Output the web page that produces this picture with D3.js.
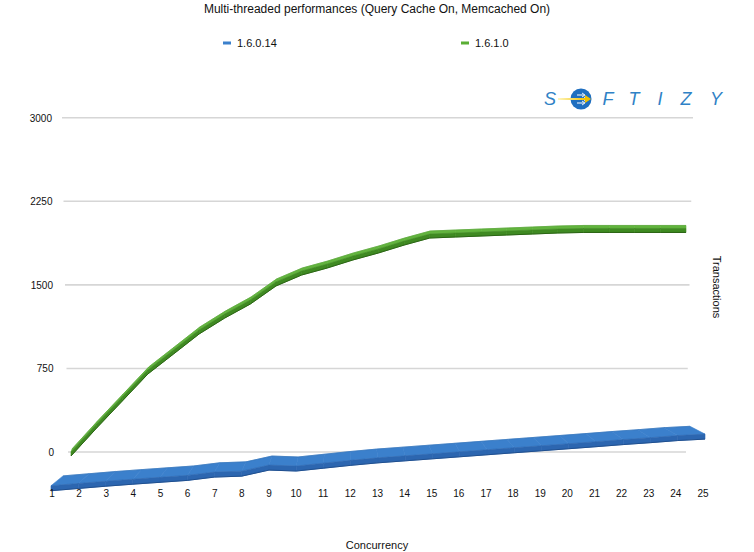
<!DOCTYPE html>
<html><head><meta charset="utf-8">
<script src="https://cdn.jsdelivr.net/npm/d3@7/dist/d3.min.js"></script>
<style>body{margin:0;background:#fff}svg{display:block}text{font-family:"Liberation Sans",Arial,sans-serif;fill:#111}</style>
</head><body><div id="chart"></div>
<script>
const title = "Multi-threaded performances (Query Cache On, Memcached On)";
const concurrency = [1,2,3,4,5,6,7,8,9,10,11,12,13,14,15,16,17,18,19,20,21,22,23,24,25];
const seriesNames = ["1.6.0.14","1.6.1.0"];
const v16014 = [36,55,74,91,107,123,151,159,210,202,226,250,271,288,305,322,339,356,373,390,407,425,441,459,471];
const v1610 = [27,278,520,763,942,1122,1265,1391,1553,1651,1714,1786,1849,1920,1983,1992,2001,2010,2019,2028,2033,2033,2033,2033,2033];
const yTicks = [0,750,1500,2250,3000];
const xTitle = "Concurrency", yTitle = "Transactions";
const logoLetters = ["F","T","I","Z","Y"];

const W=754,H=552;
const svg=d3.select("#chart").append("svg").attr("width",W).attr("height",H);

// back wall
const wallX=d3.scaleLinear().domain([1,25]).range([72,686]);
const wallY=d3.scaleLinear().domain([0,3000]).range([452,117.7]);
// gridline extents widen towards the top (perspective of the wall)
const gridL=d3.scaleLinear().domain([0,3000]).range([68,62]);
const gridR=d3.scaleLinear().domain([0,3000]).range([686,693]);
// depth planes for series ribbons
const planes={
  green:{back:{x:wallX,y:wallY},
         front:{x:d3.scaleLinear().domain([1,25]).range([71,686]),y:d3.scaleLinear().domain([0,3000]).range([455,120.7])},
         face:4, top:"#62b43e", side:"#3f8a22", edge:"#2a6414"},
  blue:{back:{x:d3.scaleLinear().domain([1,25]).range([63,690]),y:d3.scaleLinear().domain([0,3000]).range([480,138])},
        front:{x:d3.scaleLinear().domain([1,25]).range([51,705]),y:d3.scaleLinear().domain([0,3000]).range([490,134])},
        face:5, top:"#3b80cc", side:"#2c66b0", edge:"#1f4f8f"}
};
const labelX=d3.scaleLinear().domain([1,25]).range([52,703]);

// title
svg.append("text").attr("x",377).attr("y",13).attr("text-anchor","middle").attr("font-size",12).text(title);
// legend
const legX=[223,461], legCol=["#3b80cc","#5aae34"];
seriesNames.forEach((n,i)=>{
  svg.append("rect").attr("x",legX[i]).attr("y",41.5).attr("width",8).attr("height",3).attr("fill",legCol[i]);
  svg.append("text").attr("x",legX[i]+14).attr("y",47).attr("font-size",11).text(n);
});

// gridlines
yTicks.forEach(t=>{
  svg.append("line").attr("x1",gridL(t)).attr("x2",gridR(t)).attr("y1",wallY(t)).attr("y2",wallY(t))
    .attr("stroke","#d6d6d6").attr("stroke-width",1.6);
  svg.append("text").attr("x",54-(t/3000)*2).attr("y",wallY(t)+4).attr("text-anchor","end").attr("font-size",10).text(t);
});

function ribbon(p, vals){
  const g=svg.append("g");
  const B=concurrency.map((c,i)=>[p.back.x(c),p.back.y(vals[i])]);
  const F=concurrency.map((c,i)=>[p.front.x(c),p.front.y(vals[i])]);
  const line=d3.line();
  for(let i=0;i<B.length-1;i++){
    g.append("path").attr("d",line([B[i],B[i+1],F[i+1],F[i]])+"Z").attr("fill",p.top).attr("stroke",p.top).attr("stroke-width",0.6);
  }
  for(let i=0;i<F.length-1;i++){
    const a=F[i],b=F[i+1];
    g.append("path").attr("d",line([a,b,[b[0],b[1]+p.face],[a[0],a[1]+p.face]])+"Z").attr("fill",p.side).attr("stroke",p.side).attr("stroke-width",0.6);
  }
  g.append("path").attr("d",line(F.map(d=>[d[0],d[1]+p.face]))).attr("fill","none").attr("stroke",p.edge).attr("stroke-width",1);
  g.append("path").attr("d",line(B)).attr("fill","none").attr("stroke",d3.color(p.top).darker(0.3)).attr("stroke-width",0.6);
}
ribbon(planes.green, v1610);
ribbon(planes.blue, v16014);

// x labels
concurrency.forEach(c=>{
  svg.append("text").attr("x",labelX(c)).attr("y",497).attr("text-anchor","middle").attr("font-size",10).text(c);
});
// axis titles
svg.append("text").attr("x",377).attr("y",549).attr("text-anchor","middle").attr("font-size",11).text(xTitle);
svg.append("text").attr("transform","translate(713,287) rotate(90)").attr("text-anchor","middle").attr("font-size",11).text(yTitle);

// logo
const logo=svg.append("g");
const lc="#2f82c6";
logo.append("text").attr("x",550).attr("y",105).attr("text-anchor","middle").attr("font-size",18).attr("font-style","italic").attr("fill",lc).style("fill",lc).text("S");
const grad=svg.append("defs").append("linearGradient").attr("id","yg");
grad.append("stop").attr("offset","0").attr("stop-color","#fff6c0");
grad.append("stop").attr("offset","1").attr("stop-color","#f2c200");
logo.append("circle").attr("cx",581).attr("cy",99).attr("r",10.5).attr("fill","#1f6fc0");
[[-4,7],[0,9],[4,7]].forEach(([dy,len])=>{
  logo.append("line").attr("x1",577).attr("x2",577+len).attr("y1",99+dy).attr("y2",99+dy).attr("stroke","#fff").attr("stroke-width",1);
  logo.append("path").attr("d",`M${577+len-2},${99+dy-2}L${577+len+1},${99+dy}L${577+len-2},${99+dy+2}`).attr("fill","none").attr("stroke","#fff").attr("stroke-width",0.9);
});
logo.append("rect").attr("x",558).attr("y",98).attr("width",28).attr("height",2).attr("fill","url(#yg)");
logo.append("path").attr("d","M585,95L591,99L585,103Z").attr("fill","#f2c200");
const lxs=[608,634,660,686,716];
logoLetters.forEach((l,i)=>{
  logo.append("text").attr("x",lxs[i]).attr("y",105).attr("text-anchor","middle").attr("font-size",18).attr("font-style","italic").style("fill",lc).text(l);
});
</script></body></html>
